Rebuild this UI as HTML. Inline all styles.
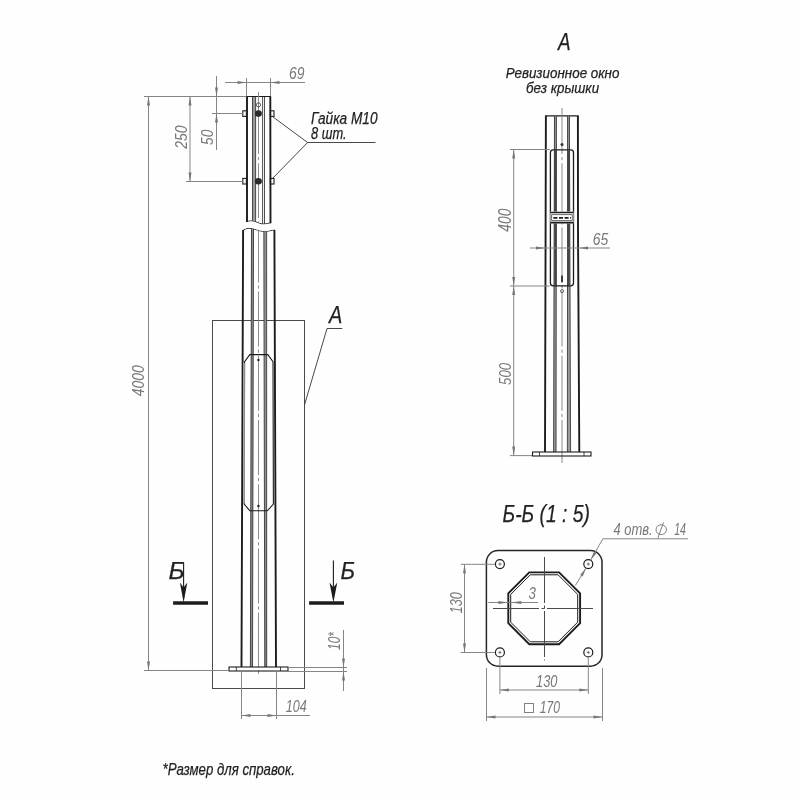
<!DOCTYPE html>
<html><head><meta charset="utf-8">
<style>
html,body{margin:0;padding:0;background:#fefefe;}
body{width:800px;height:800px;overflow:hidden;}
svg{display:block;will-change:transform;}
text{font-family:"Liberation Sans",sans-serif;font-style:italic;}
.k{fill:none;}
.g{fill:none;}
.tg{fill:#787878;}
.tk{fill:#222;stroke:#222;stroke-width:0.25;}
</style></head><body>
<svg width="800" height="800" viewBox="0 0 800 800">
<defs>
<path id="ar" d="M0,0 L-1.5,-9 L1.5,-9 Z"/>
</defs>
<rect width="800" height="800" fill="#fefefe"/>

<!-- ============ LEFT VIEW ============ -->
<g id="left">
<!-- detail rectangle -->
<rect x="212.5" y="320.5" width="92" height="368" class="k" stroke-width="1" stroke="#4a4a4a"/>
<!-- upper column -->
<path class="k" stroke="#1c1c1c" stroke-width="1.9" d="M247,222 L247,96.5 M270.3,96.5 L270.5,223.4"/>
<path class="k" stroke="#1c1c1c" stroke-width="1" d="M246.4,96.5 H271"/>
<path class="k" stroke="#1c1c1c" stroke-width="0.9" d="M246.8,222 C249,220.6 252,220.6 255,221.6 S261,224.2 264,224 S268.5,223.2 270.6,223"/>
<path class="k" stroke-width="3.2" stroke="#9a9a9a" d="M254,97 V221.4"/>
<path class="k" stroke-width="0.9" stroke="#3a3a3a" d="M252.5,97 V221 M255.6,97 V221.8 M262.6,97 V224 M264.5,97 V224"/>
<!-- lower column -->
<path class="k" stroke="#1c1c1c" stroke-width="1.9" d="M243.1,230 L241.5,667 M274.4,230 L276,667"/>
<path class="k" stroke="#1c1c1c" stroke-width="0.9" d="M243,230.2 C246,228.2 250,227.8 254,229 S261,231.6 265,231.4 S271.5,230.4 274.5,229.8"/>
<path class="k" stroke-width="2.4" stroke="#909090" d="M252.5,228.6 L251.4,667 M265.2,231.4 L265.7,667"/>
<path class="k" stroke-width="0.9" stroke="#3a3a3a" d="M251.5,228.4 L250.4,667 M253.5,228.8 L252.5,667 M263.8,231.4 L264.8,667 M266.6,231.2 L266.7,667"/>
<!-- centre line -->
<path class="g" stroke="#808080" stroke-width="0.9" d="M258.5,92 V99"/>
<path class="g" stroke="#808080" stroke-width="0.9" stroke-dasharray="55 3 3.2 3" d="M258.5,99 V675"/>
<path fill="#fefefe" stroke="none" d="M240,222.6 L246.8,222.6 C249,221.2 252,221.2 255,222.2 S261,224.8 264,224.6 S268.5,223.8 270.6,223.6 L278,223.6 L278,229.2 L274.5,229.2 C271.5,229.8 269,230.8 265,230.8 S258,229.6 254,228.4 S246,227.6 243,229.6 L240,229.6 Z"/>
<!-- window -->
<path class="k" stroke="#1c1c1c" stroke-width="1.1" d="M249.8,354.6 L267.8,354.6 L273,361.8 L273.4,504 L267.4,510.8 L249.8,510.8 L244.2,504 L244.6,361.8 Z"/>
<path class="k" stroke-width="1.6" stroke="#a8a8a8" d="M244,363 V503"/>
<circle cx="258.4" cy="360" r="1.2" fill="#222"/>
<circle cx="258.4" cy="506" r="1.2" fill="#222"/>
<!-- bolts -->
<g id="bolt1">
<rect x="242.8" y="110.8" width="3.6" height="5.6" class="k" stroke="#1c1c1c" stroke-width="1.1"/>
<rect x="270.4" y="110.8" width="3.6" height="5.6" class="k" stroke="#1c1c1c" stroke-width="1.1"/>
<ellipse cx="258.4" cy="113.6" rx="3.5" ry="3.3" fill="#2a2a2a"/>
</g>
<g id="bolt2">
<rect x="242.8" y="178.4" width="3.6" height="5.6" class="k" stroke="#1c1c1c" stroke-width="1.1"/>
<rect x="270.4" y="178.4" width="3.6" height="5.6" class="k" stroke="#1c1c1c" stroke-width="1.1"/>
<ellipse cx="258.4" cy="181.2" rx="3.5" ry="3.3" fill="#2a2a2a"/>
</g>
<circle cx="258.5" cy="104.9" r="2.1" class="k" stroke-width="0.8" stroke="#333"/>
<!-- base plate -->
<rect x="229" y="667" width="59" height="4" class="k" stroke="#1c1c1c" stroke-width="1.1" fill="#fefefe"/>
<path class="k" stroke="#1c1c1c" stroke-width="0.8" d="M236.3,667 V671 M280.5,667 V671"/>
</g>

<!-- left view dimensions -->
<g id="ldims">
<path class="g" stroke-width="1" stroke="#858585" d="M144,96.5 H246 M144,670.5 H229 M148.5,96.5 V670.5"/>
<use href="#ar" fill="#777" transform="translate(148.5,96.5) rotate(180)"/>
<use href="#ar" fill="#777" transform="translate(148.5,670.5)"/>
<path class="g" stroke-width="1" stroke="#858585" d="M186,181.5 H243 M190,96.5 V181.5"/>
<use href="#ar" fill="#777" transform="translate(190,96.5) rotate(180)"/>
<use href="#ar" fill="#777" transform="translate(190,181.5)"/>
<path class="g" stroke-width="1" stroke="#858585" d="M212,113.5 H243 M216.5,76 V150"/>
<use href="#ar" fill="#777" transform="translate(216.5,96.5)"/>
<use href="#ar" fill="#777" transform="translate(216.5,113.5) rotate(180)"/>
<path class="g" stroke-width="1" stroke="#858585" d="M246.5,78 V96 M270.5,78 V96 M225,82.5 H305"/>
<use href="#ar" fill="#777" transform="translate(246.5,82.5) rotate(-90)"/>
<use href="#ar" fill="#777" transform="translate(270.5,82.5) rotate(90)"/>
<!-- 104 -->
<path class="g" stroke-width="1" stroke="#858585" d="M241.5,672 V719 M276.5,672 V719 M241.5,715.5 H310"/>
<use href="#ar" fill="#777" transform="translate(241.5,715.5) rotate(90)"/>
<use href="#ar" fill="#777" transform="translate(276.5,715.5) rotate(-90)"/>
<!-- 10* -->
<path class="g" stroke-width="1" stroke="#858585" d="M288,667.5 H347 M288,671.5 H347 M343.5,630 V691"/>
<use href="#ar" fill="#777" transform="translate(343.5,667.5)"/>
<use href="#ar" fill="#777" transform="translate(343.5,671.5) rotate(180)"/>
</g>

<!-- leaders -->
<path class="k" stroke-width="0.9" stroke="#333" d="M272.4,116.5 L307.6,142.5 L272.4,178.6 M307.6,142.5 H375.5"/>
<path class="k" stroke-width="0.9" stroke="#333" d="M304.6,404.6 L327,328.5 H342.3"/>

<!-- section marks -->
<g id="sect">
<path class="k" stroke="#1c1c1c" stroke-width="3.4" d="M173.1,603 H208 M309.1,603 H344"/>
<path class="k" stroke="#1c1c1c" stroke-width="1.1" d="M183.6,562.5 V598 M333.4,560.5 V598"/>
<path fill="#1c1c1c" d="M183.6,602.4 L179.9,582.4 L183.6,587.6 L187.3,582.4 Z M333.4,602.4 L329.5,582.4 L333.4,587.6 L337.3,582.4 Z"/>
</g>

<!-- ============ VIEW A ============ -->
<g id="viewA">
<path class="k" stroke="#1c1c1c" stroke-width="1.9" d="M545.9,115.9 L545,452 M577.9,115.9 L578,230 L579.3,452"/>
<path class="k" stroke="#1c1c1c" stroke-width="1.1" d="M545,115.9 H578.8"/>
<path class="k" stroke-width="2.6" stroke="#9a9a9a" d="M555.4,116 L554.8,452 M568.5,116 L569,452"/>
<path class="k" stroke-width="0.9" stroke="#3a3a3a" d="M554.5,116 L553.6,452 M556.4,116 L556,452 M567.6,116 L567.4,452 M569.4,116 L570.6,452"/>
<path class="k" stroke-width="2.2" stroke="#444" d="M555.5,151 V211.5 M568.5,151 V211.5 M555.5,224 V285 M568.5,224 V285"/>
<path class="g" stroke="#808080" stroke-width="0.9" stroke-dasharray="55 3 3.2 3" stroke-dashoffset="9" d="M562,108 V463"/>
<rect x="550.4" y="149.9" width="23.1" height="136" rx="2.8" class="k" stroke="#1c1c1c" stroke-width="1.3"/>
<circle cx="562" cy="144.6" r="1.5" fill="#333"/>
<circle cx="562" cy="291.1" r="1.5" class="k" stroke="#333" stroke-width="0.8"/>
<rect x="550.4" y="211.6" width="23.1" height="11.8" fill="#fefefe" stroke="none"/>
<path class="k" stroke="#1c1c1c" stroke-width="1.7" d="M550.4,212.5 H573.5 M550.4,222.6 H573.5"/>
<path class="k" stroke="#444" stroke-width="0.8" d="M551.6,214.6 H572.3 V220.6 H551.6 Z"/>
<path class="k" stroke="#1c1c1c" stroke-width="1.6" stroke-dasharray="4 1.6" d="M553.4,217.9 H571"/>
<path class="k" stroke="#1c1c1c" stroke-width="1.6" d="M562,275.6 V282.2"/>
<rect x="532.5" y="452" width="58.5" height="4" class="k" stroke="#1c1c1c" stroke-width="1.1" fill="#fefefe"/>
<path class="k" stroke="#1c1c1c" stroke-width="0.8" d="M539.5,452 V456 M584,452 V456"/>
</g>
<g id="adims">
<path class="g" stroke-width="1" stroke="#858585" d="M510,149.5 H550 M510,286 H550 M510,455.6 H532 M513.7,149.5 V455.6"/>
<use href="#ar" fill="#777" transform="translate(513.7,149.5) rotate(180)"/>
<use href="#ar" fill="#777" transform="translate(513.7,286)"/>
<use href="#ar" fill="#777" transform="translate(513.7,286) rotate(180)"/>
<use href="#ar" fill="#777" transform="translate(513.7,455.6)"/>
<path class="g" stroke-width="1" stroke="#858585" d="M530,248 H610"/>
<use href="#ar" fill="#777" transform="translate(545,248) rotate(-90)"/>
<use href="#ar" fill="#777" transform="translate(579,248) rotate(90)"/>
</g>

<!-- ============ SECTION B-B ============ -->
<g id="secB">
<rect x="486.4" y="550.6" width="115.6" height="115.6" rx="11.5" class="k" stroke="#262626" stroke-width="1.5"/>
<g class="k" stroke="#1c1c1c" stroke-width="1.2"><circle cx="499.9" cy="564.1" r="4.5"/><circle cx="588.3" cy="564.1" r="4.5"/><circle cx="499.9" cy="652.4" r="4.5"/><circle cx="588.3" cy="652.4" r="4.5"/></g>
<path class="k" stroke="#555" stroke-width="0.8" d="M498.4,564.1 h3 M499.9,562.6 v3 M586.8,564.1 h3 M588.3,562.6 v3 M498.4,652.4 h3 M499.9,650.9 v3 M586.8,652.4 h3 M588.3,650.9 v3"/>
<path class="k" stroke="#1c1c1c" stroke-width="1.9" d="M529.3,572.4 L559.1,572.4 L580.1,593.4 L580.1,623.2 L559.1,644.2 L529.3,644.2 L508.3,623.2 L508.3,593.4 Z"/>
<path class="k" stroke="#1c1c1c" stroke-width="1" d="M530.3,574.8 L558.1,574.8 L577.7,594.4 L577.7,622.2 L558.1,641.8 L530.3,641.8 L510.7,622.2 L510.7,594.4 Z"/>
<path class="k" stroke-width="1" stroke="#4a4a4a" d="M544.5,557 V660.5" stroke-dasharray="46 2.5 3 2.5"/>
<path class="k" stroke-width="1" stroke="#4a4a4a" d="M493,608.5 H595" stroke-dasharray="46 2.5 3 2.5"/>
</g>
<g id="bdims">
<path class="g" stroke-width="1" stroke="#858585" d="M460.7,564.3 H495.2 M460.7,652.5 H495.2 M464.5,564.3 V652.5"/>
<use href="#ar" fill="#777" transform="translate(464.5,564.3) rotate(180)"/>
<use href="#ar" fill="#777" transform="translate(464.5,652.5)"/>
<path class="g" stroke-width="1" stroke="#858585" d="M499.9,657.2 V694 M588.3,657.2 V694 M499.9,690 H588.3"/>
<use href="#ar" fill="#777" transform="translate(499.9,690) rotate(90)"/>
<use href="#ar" fill="#777" transform="translate(588.3,690) rotate(-90)"/>
<path class="g" stroke-width="1" stroke="#858585" d="M486.5,668 V721 M602.5,668 V721 M486.5,717 H602.5"/>
<use href="#ar" fill="#777" transform="translate(486.5,717) rotate(90)"/>
<use href="#ar" fill="#777" transform="translate(602.5,717) rotate(-90)"/>
<path class="g" stroke-width="1" stroke="#858585" d="M488.3,602.5 H538.2"/>
<use href="#ar" fill="#777" transform="translate(508.3,602.5) rotate(-90) scale(1,1.1)"/>
<use href="#ar" fill="#777" transform="translate(511.4,602.5) rotate(90) scale(1,1.1)"/>
<path class="g" stroke-width="1" stroke="#858585" d="M688,538.8 H602.9 L590.6,560.2 M586,568 L575.4,585.5"/>
<use href="#ar" fill="#777" transform="translate(590.6,560.2) rotate(30.2)"/>
<use href="#ar" fill="#777" transform="translate(586,568) rotate(210.2)"/>
</g>

<!-- ============ TEXT ============ -->
<g id="txt">
<text class="tg" x="289" y="79.2" font-size="17.4" textLength="15.5" lengthAdjust="spacingAndGlyphs">69</text>
<text class="tg" transform="translate(187,148.8) rotate(-90)" font-size="17.4" textLength="23.3" lengthAdjust="spacingAndGlyphs">250</text>
<text class="tg" transform="translate(213,145) rotate(-90)" font-size="17.4" textLength="15.4" lengthAdjust="spacingAndGlyphs">50</text>
<text class="tg" transform="translate(144.4,396.3) rotate(-90)" font-size="17.2" textLength="31" lengthAdjust="spacingAndGlyphs">4000</text>
<text class="tk" x="311" y="123.5" font-size="16" textLength="66.5" lengthAdjust="spacingAndGlyphs">Гайка М10</text>
<text class="tk" x="311" y="138.5" font-size="16" textLength="35.5" lengthAdjust="spacingAndGlyphs">8 шт.</text>
<text class="tk" x="329" y="323.4" font-size="24" textLength="13.3" lengthAdjust="spacingAndGlyphs">А</text>
<text class="tk" x="168.6" y="578.9" font-size="23.6" textLength="16.2" lengthAdjust="spacingAndGlyphs">Б</text>
<text class="tk" x="340.6" y="578.9" font-size="23.6" textLength="14.5" lengthAdjust="spacingAndGlyphs">Б</text>
<text class="tg" transform="translate(340,650) rotate(-90)" font-size="16.5" textLength="18" lengthAdjust="spacingAndGlyphs">10*</text>
<text class="tg" x="285.8" y="711.7" font-size="17.2" textLength="21" lengthAdjust="spacingAndGlyphs">104</text>
<text class="tk" x="162.5" y="774.7" font-size="17" textLength="132.3" lengthAdjust="spacingAndGlyphs">*Размер для справок.</text>
<text class="tk" x="558" y="50" font-size="23" textLength="12.6" lengthAdjust="spacingAndGlyphs">А</text>
<text class="tk" x="505.7" y="77.8" font-size="15.2" textLength="113.7" lengthAdjust="spacingAndGlyphs">Ревизионное окно</text>
<text class="tk" x="526" y="92.9" font-size="15.2" textLength="73.1" lengthAdjust="spacingAndGlyphs">без крышки</text>
<text class="tg" transform="translate(510.5,231.7) rotate(-90)" font-size="17.8" textLength="23.2" lengthAdjust="spacingAndGlyphs">400</text>
<text class="tg" transform="translate(510.7,385) rotate(-90)" font-size="17.2" textLength="22.2" lengthAdjust="spacingAndGlyphs">500</text>
<text class="tg" x="592.8" y="245" font-size="17.4" textLength="15.5" lengthAdjust="spacingAndGlyphs">65</text>
<text class="tk" x="502.6" y="521.8" font-size="24" textLength="87.4" lengthAdjust="spacingAndGlyphs">Б-Б (1 : 5)</text>
<text class="tg" x="613.4" y="535.2" font-size="16.4" textLength="39.3" lengthAdjust="spacingAndGlyphs">4 отв.</text>
<text class="tg" x="674.2" y="535.2" font-size="16.4" textLength="11.8" lengthAdjust="spacingAndGlyphs">14</text>
<ellipse cx="661.2" cy="529.7" rx="5.2" ry="4.9" class="g" stroke="#808080" stroke-width="1"/>
<path class="g" stroke="#808080" stroke-width="1" d="M657.9,538 L663.5,522.3"/>
<text class="tg" x="528.6" y="599" font-size="16.6" textLength="7.4" lengthAdjust="spacingAndGlyphs">3</text>
<text class="tg" transform="translate(461.6,613.2) rotate(-90)" font-size="17.4" textLength="21.1" lengthAdjust="spacingAndGlyphs">130</text>
<text class="tg" x="536" y="687" font-size="17.4" textLength="21.4" lengthAdjust="spacingAndGlyphs">130</text>
<rect x="524.5" y="703.5" width="9" height="9" class="g" stroke="#808080" stroke-width="1"/>
<text class="tg" x="539.7" y="713" font-size="16.6" textLength="20.3" lengthAdjust="spacingAndGlyphs">170</text>
</g>
</svg>
</body></html>
